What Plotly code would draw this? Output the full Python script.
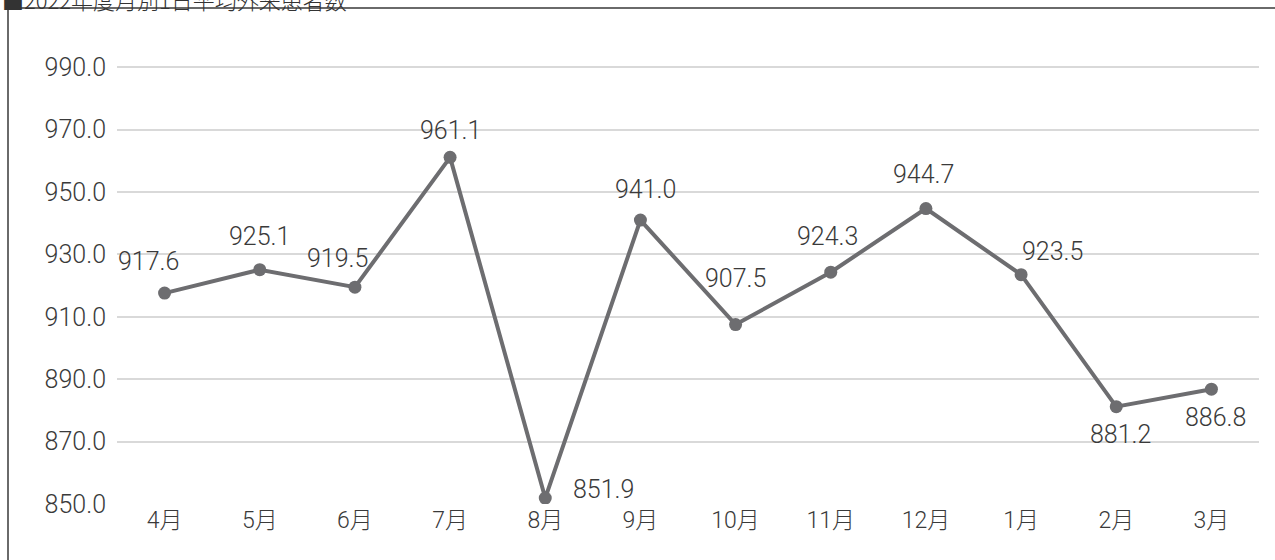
import plotly.graph_objects as go

months = ["4月", "5月", "6月", "7月", "8月", "9月", "10月", "11月", "12月", "1月", "2月", "3月"]
patients = [917.6, 925.1, 919.5, 961.1, 851.9, 941.0, 907.5, 924.3, 944.7, 923.5, 881.2, 886.8]
y_ticks = [850, 870, 890, 910, 930, 950, 970, 990]

# label offsets in pixels (dx, dy) relative to each marker
label_offsets = [(-16, 32), (0, 33), (-17, 29), (0, 27), (58, 9), (5, 31),
                 (0, 46), (-3, 36), (-2, 34), (31, 23), (4, -28), (4, -28)]

W, H = 1275, 560
ML, MR, MT, MB = 117, 16, 36, 56
PW, PH = W - ML - MR, H - MT - MB

FONT = "Roboto, Noto Sans CJK JP, sans-serif"
CJK_FONT = "Noto Sans CJK JP, sans-serif"
TEXT_COLOR = "#3a3a3a"
LINE_COLOR = "#6d6d70"

fig = go.Figure()
fig.add_trace(go.Scatter(
    x=months, y=patients, mode="lines+markers",
    line=dict(color=LINE_COLOR, width=4),
    marker=dict(color=LINE_COLOR, size=13),
    hoverinfo="skip", showlegend=False,
))

for m, v, (dx, dy) in zip(months, patients, label_offsets):
    fig.add_annotation(x=m, y=v, text=f"{v:.1f}", showarrow=False,
                       xshift=dx, yshift=dy,
                       font=dict(family=FONT, size=25, color=TEXT_COLOR, weight=300))

def px_x(p):
    return (p - ML) / PW

def px_y(p):
    return (H - MB - p) / PH

# outer frame (partially cut off at the page edges)
fig.add_shape(type="rect", xref="paper", yref="paper",
              x0=px_x(8), x1=px_x(1285), y0=px_y(570), y1=px_y(8),
              line=dict(color="#3a3a3a", width=1.5), fillcolor="rgba(0,0,0,0)")

# chart title sitting above the frame
fig.add_annotation(xref="paper", yref="paper", x=px_x(0), y=px_y(-1),
                   xanchor="left", yanchor="middle", showarrow=False,
                   text="■2022年度月別1日平均外来患者数",
                   font=dict(family=CJK_FONT, size=22, color="#333333", weight=300))

fig.update_layout(
    width=W, height=H,
    margin=dict(l=ML, r=MR, t=MT, b=MB),
    paper_bgcolor="white", plot_bgcolor="white",
    font=dict(family=FONT, size=24, color=TEXT_COLOR, weight=300),
)
fig.update_xaxes(type="category", range=[-0.5, 11.5], showgrid=False,
                 showline=False, zeroline=False, ticks="",
                 tickfont=dict(family=FONT, size=23, color=TEXT_COLOR, weight=300))
fig.update_yaxes(range=[850, 1000], tickvals=y_ticks,
                 ticktext=[f"{t:.1f}" for t in y_ticks],
                 showgrid=True, gridcolor="#d9d9d9", gridwidth=1.5,
                 zeroline=False, showline=False, ticks="", ticklabelstandoff=10,
                 tickfont=dict(family=FONT, size=25, color=TEXT_COLOR, weight=300))

fig.write_html("out.html")
